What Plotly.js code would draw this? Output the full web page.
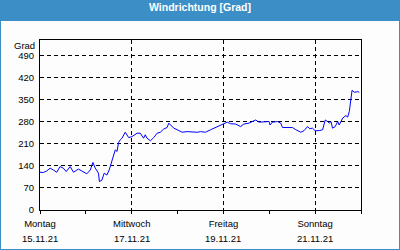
<!DOCTYPE html>
<html>
<head>
<meta charset="utf-8">
<script src="https://cdn.plot.ly/plotly-3.0.1.min.js"></script>
<style>
html,body{margin:0;padding:0;background:#fff;}
#wrap{position:relative;width:400px;height:250px;overflow:hidden;background:#fcfdfc;}
#bar{position:absolute;left:0;top:0;width:400px;height:21px;background:#3b8ec6;}
#frame{position:absolute;left:0;top:0;width:398px;height:248px;border:1px solid #3b8ec6;pointer-events:none;}
#chart{position:absolute;left:0;top:0;width:400px;height:250px;}
</style>
</head>
<body>
<div id="wrap"><div id="bar"></div><div id="chart"></div><div id="frame"></div></div>
<script>
// hours since Monday 15.11.21 00:00
const hours = [0,1.7,3.5,5.3,7,8.8,10.5,12.2,13.7,15.8,17.5,20.1,21.9,24.5,26.3,27.7,28.9,30.6,31.1,32.4,33.6,35,36.2,37.6,38.5,39.4,40.3,41.1,42,42.9,44.6,46.4,48.1,50.8,52.5,54.2,55.1,56,57.8,59.5,61.3,63,64.7,66.5,67.4,68.6,70,71.8,74.4,77,79.6,82.3,84,86.6,89.3,91.9,94.5,96.2,98,99.8,102.4,105,106.7,109.4,111.1,112.9,114.6,117.2,119.9,120.4,121.6,124.3,126,126.9,129.5,132.1,133.9,136.5,138.2,140,141.2,142.6,144,146.1,147.9,149.3,150.5,151.4,152.3,153.1,154.5,155.8,156.6,158.4,160.1,161,161.9,162.8,163.3,164.5,166.3,167.1];
const windDir = [120,119,124,133,127,120,138,133,122,138,120,130,124,115,127,151,133,117,90,95,117,111,127,154,178,191,186,214,223,228,247,230,233,244,244,228,239,228,220,230,244,247,257,262,276,270,260,255,247,249,247,247,249,247,255,262,268,273,279,274,273,265,273,276,281,286,279,279,281,270,279,281,276,262,262,262,255,247,252,265,258,260,252,252,255,286,281,276,281,260,265,281,270,292,300,295,313,350,380,374,376,374];
const tickHours = [0,48,96,144];
const dayNames = ["Montag","Mittwoch","Freitag","Sonntag"];
const dateLabels = ["15.11.21","17.11.21","19.11.21","21.11.21"];
const leftTicks = [0,70,140,210,280,350,420,490];
const compassVals = [0,45,90,135,180,225,270,315,360,405,450,495,540];
const compassText = ["N","NE","E","SE","S","SW","W","NW","N","NE","E","SE","S"];

const F = "Liberation Sans, Arial, sans-serif";
const annotations = dateLabels.map((d,i)=>({
  x: tickHours[i], xref:'x', y:0, yref:'paper', yanchor:'top', xanchor:'center',
  yshift:-21, text:d, showarrow:false, font:{family:F,size:9.5,color:'#000'}
}));
annotations.push({x:0,xref:'paper',y:1,yref:'paper',xanchor:'right',yanchor:'top',
  xshift:-3,yshift:2,text:'Grad',showarrow:false,font:{family:F,size:9.5,color:'#000'}});

const data = [{
  x: hours, y: windDir, type:'scatter', mode:'lines',
  line:{color:'#0000ff',width:1}, hoverinfo:'skip'
}];
const layout = {
  width:400, height:250,
  margin:{l:40,r:39,t:40,b:40},
  paper_bgcolor:'rgba(0,0,0,0)', plot_bgcolor:'rgba(0,0,0,0)',
  showlegend:false,
  title:{text:'<b>Windrichtung [Grad]</b>', x:0.5, xanchor:'center', y:1, yref:'container', yanchor:'top', pad:{t:4},
    font:{family:F,size:10.5,color:'#ffffff'}},
  font:{family:F,size:9.5,color:'#000'},
  xaxis:{range:[0,168], tickmode:'array', tickvals:tickHours, ticktext:dayNames,
    showgrid:true, gridcolor:'#000', griddash:'4px,3px', gridwidth:1,
    showline:true, linecolor:'#000', linewidth:1, mirror:true,
    ticks:'outside', ticklen:3, tickcolor:'#000', ticklabelstandoff:2,
    minor:{dtick:24, tick0:0, ticks:'outside', ticklen:3, tickcolor:'#000', showgrid:false},
    zeroline:false, fixedrange:true},
  yaxis:{range:[0,540], tickmode:'array', tickvals:leftTicks,
    showgrid:true, gridcolor:'#000', griddash:'4px,3px', gridwidth:1,
    showline:true, linecolor:'#000', linewidth:1, mirror:true,
    ticks:'', ticklabelstandoff:3, zeroline:false, fixedrange:true},
  yaxis2:{range:[0,540], overlaying:'y', side:'right', anchor:'x', tickmode:'array',
    tickvals:compassVals, ticktext:compassText, showgrid:false, zeroline:false,
    showline:true, linecolor:'#000', linewidth:1, ticks:'outside', ticklen:3, tickcolor:'#000',
    fixedrange:true},
  annotations: annotations
};
Plotly.newPlot('chart', data, layout, {staticPlot:true, displayModeBar:false});
</script>
</body>
</html>
